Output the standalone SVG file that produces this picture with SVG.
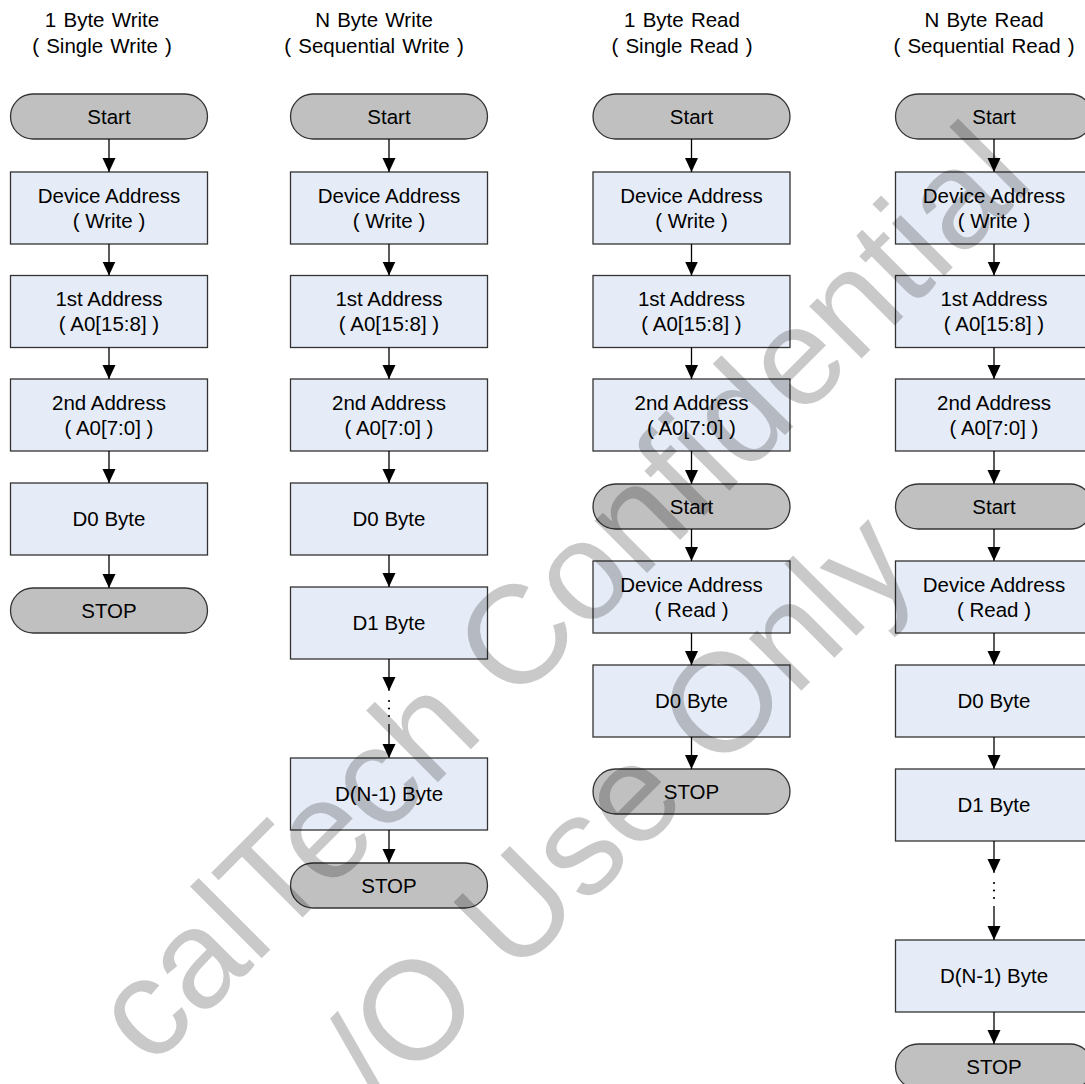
<svg xmlns="http://www.w3.org/2000/svg" width="1085" height="1084" viewBox="0 0 1085 1084">
<style>
  .box{fill:#e6ecf7;stroke:#333;stroke-width:1.3}
  .pill{fill:#c0c0c0;stroke:#333;stroke-width:1.3}
  text{font-family:"Liberation Sans",Arial,sans-serif;font-size:20.5px;fill:#000;text-anchor:middle}
  .hdr text{word-spacing:1.5px}
  .conn line{stroke:#000;stroke-width:1.3}
  .conn circle{fill:#000}
  .wm text{font-size:140px;fill:#000;fill-opacity:0.21;text-anchor:start;word-spacing:0}
</style>
<defs>
  <marker id="ah" markerWidth="13" markerHeight="14" refX="14" refY="6.5" orient="auto" markerUnits="userSpaceOnUse">
    <path d="M0,0 L14,6.5 L0,13 z" fill="#000"/>
  </marker>
</defs>
<rect width="1085" height="1084" fill="#fff"/>

<g id="headers" class="hdr">
  <text x="102" y="27">1 Byte Write</text><text x="102" y="53">( Single Write )</text>
  <text x="374" y="27">N Byte Write</text><text x="374" y="53">( Sequential Write )</text>
  <text x="682" y="27">1 Byte Read</text><text x="682" y="53">( Single Read )</text>
  <text x="984" y="27">N Byte Read</text><text x="984" y="53">( Sequential Read )</text>
</g>

<!-- Column 1 -->
<g id="c1-start"><rect class="pill" x="10.5" y="94" width="197" height="45" rx="22.5"/><text x="109" y="123.5">Start</text></g>
<g id="c1-dev"><rect class="box" x="10.5" y="172" width="197" height="72"/><text x="109" y="202.5">Device Address</text><text x="109" y="227.5">( Write )</text></g>
<g id="c1-a1"><rect class="box" x="10.5" y="275.5" width="197" height="72"/><text x="109" y="306">1st Address</text><text x="109" y="331">( A0[15:8] )</text></g>
<g id="c1-a2"><rect class="box" x="10.5" y="379" width="197" height="72"/><text x="109" y="409.5">2nd Address</text><text x="109" y="434.5">( A0[7:0] )</text></g>
<g id="c1-d0"><rect class="box" x="10.5" y="483" width="197" height="72"/><text x="109" y="526">D0 Byte</text></g>
<g id="c1-stop"><rect class="pill" x="10.5" y="588" width="197" height="45" rx="22.5"/><text x="109" y="617.5">STOP</text></g>

<!-- Column 2 -->
<g id="c2-start"><rect class="pill" x="290.5" y="94" width="197" height="45" rx="22.5"/><text x="389" y="123.5">Start</text></g>
<g id="c2-dev"><rect class="box" x="290.5" y="172" width="197" height="72"/><text x="389" y="202.5">Device Address</text><text x="389" y="227.5">( Write )</text></g>
<g id="c2-a1"><rect class="box" x="290.5" y="275.5" width="197" height="72"/><text x="389" y="306">1st Address</text><text x="389" y="331">( A0[15:8] )</text></g>
<g id="c2-a2"><rect class="box" x="290.5" y="379" width="197" height="72"/><text x="389" y="409.5">2nd Address</text><text x="389" y="434.5">( A0[7:0] )</text></g>
<g id="c2-d0"><rect class="box" x="290.5" y="483" width="197" height="72"/><text x="389" y="526">D0 Byte</text></g>
<g id="c2-d1"><rect class="box" x="290.5" y="587" width="197" height="72"/><text x="389" y="630">D1 Byte</text></g>
<g id="c2-dn"><rect class="box" x="290.5" y="758" width="197" height="72"/><text x="389" y="801">D(N-1) Byte</text></g>
<g id="c2-stop"><rect class="pill" x="290.5" y="863" width="197" height="45" rx="22.5"/><text x="389" y="892.5">STOP</text></g>

<!-- Column 3 -->
<g id="c3-start"><rect class="pill" x="593" y="94" width="197" height="45" rx="22.5"/><text x="691.5" y="123.5">Start</text></g>
<g id="c3-dev"><rect class="box" x="593" y="172" width="197" height="72"/><text x="691.5" y="202.5">Device Address</text><text x="691.5" y="227.5">( Write )</text></g>
<g id="c3-a1"><rect class="box" x="593" y="275.5" width="197" height="72"/><text x="691.5" y="306">1st Address</text><text x="691.5" y="331">( A0[15:8] )</text></g>
<g id="c3-a2"><rect class="box" x="593" y="379" width="197" height="72"/><text x="691.5" y="409.5">2nd Address</text><text x="691.5" y="434.5">( A0[7:0] )</text></g>
<g id="c3-start2"><rect class="pill" x="593" y="484" width="197" height="45" rx="22.5"/><text x="691.5" y="513.5">Start</text></g>
<g id="c3-devr"><rect class="box" x="593" y="561" width="197" height="72"/><text x="691.5" y="591.5">Device Address</text><text x="691.5" y="616.5">( Read )</text></g>
<g id="c3-d0"><rect class="box" x="593" y="665" width="197" height="72"/><text x="691.5" y="708">D0 Byte</text></g>
<g id="c3-stop"><rect class="pill" x="593" y="769" width="197" height="45" rx="22.5"/><text x="691.5" y="798.5">STOP</text></g>

<!-- Column 4 -->
<g id="c4-start"><rect class="pill" x="895.5" y="94" width="197" height="45" rx="22.5"/><text x="994" y="123.5">Start</text></g>
<g id="c4-dev"><rect class="box" x="895.5" y="172" width="197" height="72"/><text x="994" y="202.5">Device Address</text><text x="994" y="227.5">( Write )</text></g>
<g id="c4-a1"><rect class="box" x="895.5" y="275.5" width="197" height="72"/><text x="994" y="306">1st Address</text><text x="994" y="331">( A0[15:8] )</text></g>
<g id="c4-a2"><rect class="box" x="895.5" y="379" width="197" height="72"/><text x="994" y="409.5">2nd Address</text><text x="994" y="434.5">( A0[7:0] )</text></g>
<g id="c4-start2"><rect class="pill" x="895.5" y="484" width="197" height="45" rx="22.5"/><text x="994" y="513.5">Start</text></g>
<g id="c4-devr"><rect class="box" x="895.5" y="561" width="197" height="72"/><text x="994" y="591.5">Device Address</text><text x="994" y="616.5">( Read )</text></g>
<g id="c4-d0"><rect class="box" x="895.5" y="665" width="197" height="72"/><text x="994" y="708">D0 Byte</text></g>
<g id="c4-d1"><rect class="box" x="895.5" y="769" width="197" height="72"/><text x="994" y="812">D1 Byte</text></g>
<g id="c4-dn"><rect class="box" x="895.5" y="940" width="197" height="72"/><text x="994" y="983">D(N-1) Byte</text></g>
<g id="c4-stop"><rect class="pill" x="895.5" y="1044" width="197" height="45" rx="22.5"/><text x="994" y="1073.5">STOP</text></g>

<g id="connectors" class="conn">
  <line x1="109" y1="139" x2="109" y2="172" marker-end="url(#ah)"/>
  <line x1="109" y1="244" x2="109" y2="275.5" marker-end="url(#ah)"/>
  <line x1="109" y1="347.5" x2="109" y2="379" marker-end="url(#ah)"/>
  <line x1="109" y1="451" x2="109" y2="483" marker-end="url(#ah)"/>
  <line x1="109" y1="555" x2="109" y2="588" marker-end="url(#ah)"/>

  <line x1="389" y1="139" x2="389" y2="172" marker-end="url(#ah)"/>
  <line x1="389" y1="244" x2="389" y2="275.5" marker-end="url(#ah)"/>
  <line x1="389" y1="347.5" x2="389" y2="379" marker-end="url(#ah)"/>
  <line x1="389" y1="451" x2="389" y2="483" marker-end="url(#ah)"/>
  <line x1="389" y1="555" x2="389" y2="587" marker-end="url(#ah)"/>
  <line x1="389" y1="659" x2="389" y2="691" marker-end="url(#ah)"/>
  <circle cx="389" cy="701" r="1.1"/><circle cx="389" cy="708.5" r="1.1"/><circle cx="389" cy="716" r="1.1"/>
  <line x1="389" y1="724" x2="389" y2="758" marker-end="url(#ah)"/>
  <line x1="389" y1="830" x2="389" y2="863" marker-end="url(#ah)"/>

  <line x1="691.5" y1="139" x2="691.5" y2="172" marker-end="url(#ah)"/>
  <line x1="691.5" y1="244" x2="691.5" y2="275.5" marker-end="url(#ah)"/>
  <line x1="691.5" y1="347.5" x2="691.5" y2="379" marker-end="url(#ah)"/>
  <line x1="691.5" y1="451" x2="691.5" y2="484" marker-end="url(#ah)"/>
  <line x1="691.5" y1="529" x2="691.5" y2="561" marker-end="url(#ah)"/>
  <line x1="691.5" y1="633" x2="691.5" y2="665" marker-end="url(#ah)"/>
  <line x1="691.5" y1="737" x2="691.5" y2="769" marker-end="url(#ah)"/>

  <line x1="994" y1="139" x2="994" y2="172" marker-end="url(#ah)"/>
  <line x1="994" y1="244" x2="994" y2="275.5" marker-end="url(#ah)"/>
  <line x1="994" y1="347.5" x2="994" y2="379" marker-end="url(#ah)"/>
  <line x1="994" y1="451" x2="994" y2="484" marker-end="url(#ah)"/>
  <line x1="994" y1="529" x2="994" y2="561" marker-end="url(#ah)"/>
  <line x1="994" y1="633" x2="994" y2="665" marker-end="url(#ah)"/>
  <line x1="994" y1="737" x2="994" y2="769" marker-end="url(#ah)"/>
  <line x1="994" y1="841" x2="994" y2="873" marker-end="url(#ah)"/>
  <circle cx="994" cy="883" r="1.1"/><circle cx="994" cy="890.5" r="1.1"/><circle cx="994" cy="898" r="1.1"/>
  <line x1="994" y1="906" x2="994" y2="940" marker-end="url(#ah)"/>
  <line x1="994" y1="1012" x2="994" y2="1044" marker-end="url(#ah)"/>
</g>

<g id="watermark" class="wm">
  <text x="150.5" y="1069.5" transform="rotate(-45 150.5 1069.5)">calTech Confidential</text>
  <text x="382" y="1110" transform="rotate(-45 382 1110)">/O Use Only</text>
</g>
</svg>
